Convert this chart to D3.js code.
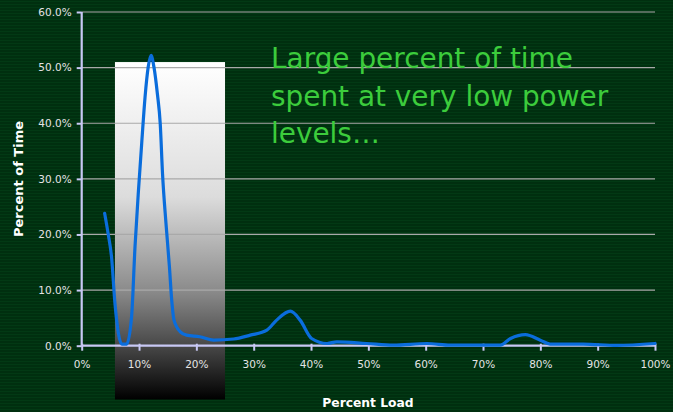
<!DOCTYPE html>
<html><head><meta charset="utf-8">
<script src="https://cdn.jsdelivr.net/npm/d3@7"></script>
<style>html,body{margin:0;padding:0;background:#003010;overflow:hidden}</style>
</head><body>
<script>
// Data (percent load, percent of time)
const loadPct = [4, 4.6, 5.2, 5.8, 7.0, 7.85, 8.7, 9.3, 9.9, 10.5, 11.05, 11.6, 12.1, 12.6, 13.2, 13.7, 14.1, 14.7, 15.3, 15.7, 16.1, 17.2, 18.3, 20.6, 23, 26.5, 29.4, 32.3, 34.0, 36.4, 38.1, 40.1, 42.8, 44.5, 49.7, 54.4, 60.2, 64.3, 73, 74.8, 77.4, 80.0, 81.7, 87.5, 93.3, 100];
const timePct = [23.8, 20.2, 16.0, 7.6, 0.3, 0.3, 5.2, 17.8, 27.9, 36.9, 44.7, 50.1, 52.2, 50.1, 45.3, 39.9, 30.9, 22.0, 14.2, 8.2, 4.6, 2.5, 1.9, 1.6, 1.0, 1.2, 1.9, 2.8, 4.6, 6.2, 4.6, 1.3, 0.4, 0.7, 0.4, 0.1, 0.4, 0.1, 0.1, 1.3, 2.0, 1.0, 0.3, 0.3, 0.05, 0.4];
const xTicks = [0, 10, 20, 30, 40, 50, 60, 70, 80, 90, 100];
const yTicks = [0, 10, 20, 30, 40, 50, 60];
const highlightX = [5.8, 25];   // shaded band in percent load
const highlightTop = 51;        // percent of time
const annotation = ["Large percent of time", "spent at very low power", "levels…"];
const xTitle = "Percent Load", yTitle = "Percent of Time";

const W = 673, H = 412;
const svg = d3.select("body").append("svg").attr("width", W).attr("height", H);
const defs = svg.append("defs");

// striped background
const pat = defs.append("pattern").attr("id","stripes").attr("width",4).attr("height",3).attr("patternUnits","userSpaceOnUse");
pat.append("rect").attr("width",4).attr("height",3).attr("fill","#002f0f");
pat.append("rect").attr("y",1).attr("width",4).attr("height",1).attr("fill","#023914");
svg.append("rect").attr("width",W).attr("height",H).attr("fill","url(#stripes)");

const x = d3.scaleLinear().domain([0,100]).range([81.7, 655]);
const y = d3.scaleLinear().domain([0,60]).range([345.7, 12]);

// gradient band
const grad = defs.append("linearGradient").attr("id","band").attr("x1",0).attr("y1",0).attr("x2",0).attr("y2",1);
[[0,"#ffffff"],[0.4,"#dcdcdc"],[0.68,"#8a8a8a"],[0.85,"#444444"],[1,"#000000"]].forEach(s=>grad.append("stop").attr("offset",s[0]).attr("stop-color",s[1]));
svg.append("rect").attr("x",x(highlightX[0])).attr("y",y(highlightTop))
  .attr("width",x(highlightX[1])-x(highlightX[0])).attr("height",399.5-y(highlightTop))
  .attr("fill","url(#band)");

// gridlines
svg.append("g").selectAll("line").data(yTicks.filter(d=>d>0)).join("line")
  .attr("x1",x(0)).attr("x2",x(100)).attr("y1",d=>y(d)).attr("y2",d=>y(d))
  .attr("stroke","#a9a9a9").attr("stroke-width",1.2);

// axes
const fmtY = d=>d.toFixed(1)+"%";
const yAxis = svg.append("g").attr("transform",`translate(${x(0)},0)`)
  .call(d3.axisLeft(y).tickValues(yTicks).tickFormat(fmtY).tickSize(5).tickPadding(5));
const xAxis = svg.append("g").attr("transform",`translate(0,${y(0)})`)
  .call(d3.axisBottom(x).tickValues(xTicks).tickFormat(d=>d+"%").tickSize(5).tickPadding(10));
[yAxis,xAxis].forEach(a=>{
  a.select(".domain").attr("stroke","#c8c8f4").attr("stroke-width",2.2);
  a.selectAll(".tick line").attr("stroke","#c8c8f4").attr("stroke-width",2);
  a.selectAll("text").attr("fill","#e4e4e4").attr("font-family","DejaVu Sans, sans-serif").attr("font-size",10.5);
});
yAxis.select(".domain").attr("d",`M0,${y(60)}V${y(0)}`);
xAxis.select(".domain").attr("d",`M${x(0)},0H${x(100)}`);
xAxis.selectAll(".tick line").attr("y1",-2);

// line
const pts = loadPct.map((v,i)=>[v,timePct[i]]);
svg.append("path").datum(pts)
  .attr("d", d3.line().x(d=>x(d[0])).y(d=>y(d[1])).curve(d3.curveMonotoneX))
  .attr("fill","none").attr("stroke","#0a6ddc").attr("stroke-width",3.2).attr("stroke-linejoin","round").attr("stroke-linecap","round");

// axis titles
svg.append("text").attr("x",368).attr("y",407).attr("text-anchor","middle")
  .attr("font-family","DejaVu Sans, sans-serif").attr("font-weight","bold").attr("font-size",12.3).attr("fill","#ffffff").text(xTitle);
svg.append("text").attr("transform","translate(23,179) rotate(-90)").attr("text-anchor","middle")
  .attr("font-family","DejaVu Sans, sans-serif").attr("font-weight","bold").attr("font-size",13).attr("fill","#ffffff").text(yTitle);

// annotation
const ann = svg.append("text").attr("font-family","DejaVu Sans, sans-serif").attr("font-size",28).attr("fill","#3ccc3c");
annotation.forEach((t,i)=>ann.append("tspan").attr("x",271).attr("y",68+i*37.5).text(t));
const first = ann.select("tspan").node().getComputedTextLength();
ann.attr("font-size", 28*302/first);
</script>
</body></html>
